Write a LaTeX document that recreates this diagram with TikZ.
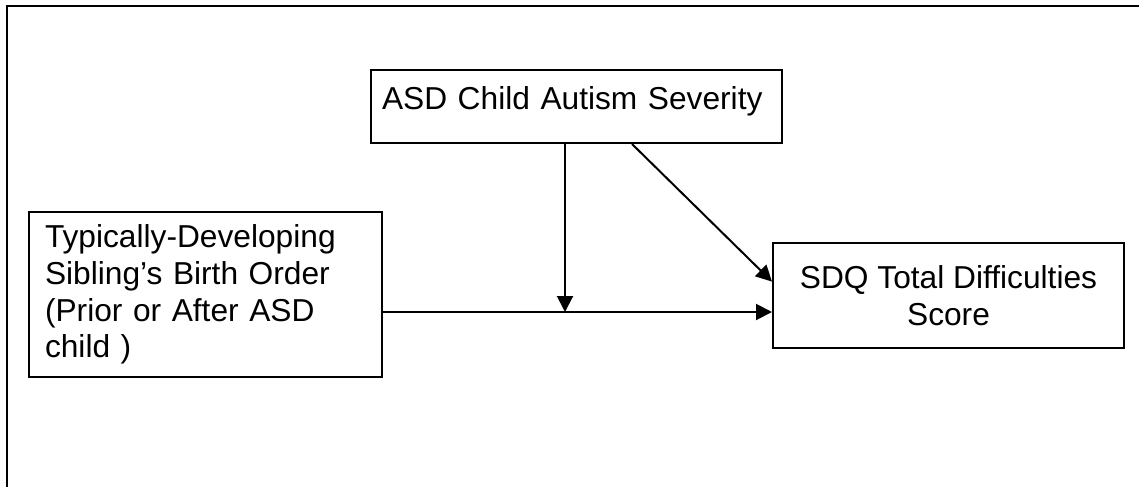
\documentclass[tikz,border=0pt]{standalone}
\usepackage{fontspec}
\setmainfont{Liberation Sans}
\usetikzlibrary{arrows.meta,calc}
\begin{document}
\begin{tikzpicture}[x=1pt,y=-1pt,
  box/.style={draw, line width=2pt, inner sep=0pt, font=\fontsize{31.7}{36.8}\selectfont},
  arr/.style={line width=2pt, -{Triangle[length=16pt,width=16pt]}},
  frame/.style={line width=2.6pt}]
\useasboundingbox (0,0) rectangle (1139,487);
\draw[frame] (7,487) -- (7,6) -- (1139,6);
\node[box, inner xsep=11pt, text width=389pt, align=left, text height=39pt, text depth=34pt]
  (T) at (576.5,106.5) {ASD Child Autism Severity};
\node[box, inner xsep=16pt, text width=321pt, align=left, minimum height=165pt]
  (L) at (205.5,294.5) {Typically-Developing\\Sibling’s Birth Order\\(Prior or After ASD\\child )};
\node[box, minimum width=351pt, minimum height=105pt, align=center]
  (S) at (948.5,295.5) {SDQ Total Difficulties\\Score};
\coordinate (m) at (565,312);
\coordinate (d) at (632,143);
\draw[arr] (L.east |- m) -- (S.west |- m);
\draw[arr] (T.south -| m) -- (m);
\draw[arr] (T.south -| d) -- ($(S.north west)!0.37!(S.south west)$);
\end{tikzpicture}
\end{document}
